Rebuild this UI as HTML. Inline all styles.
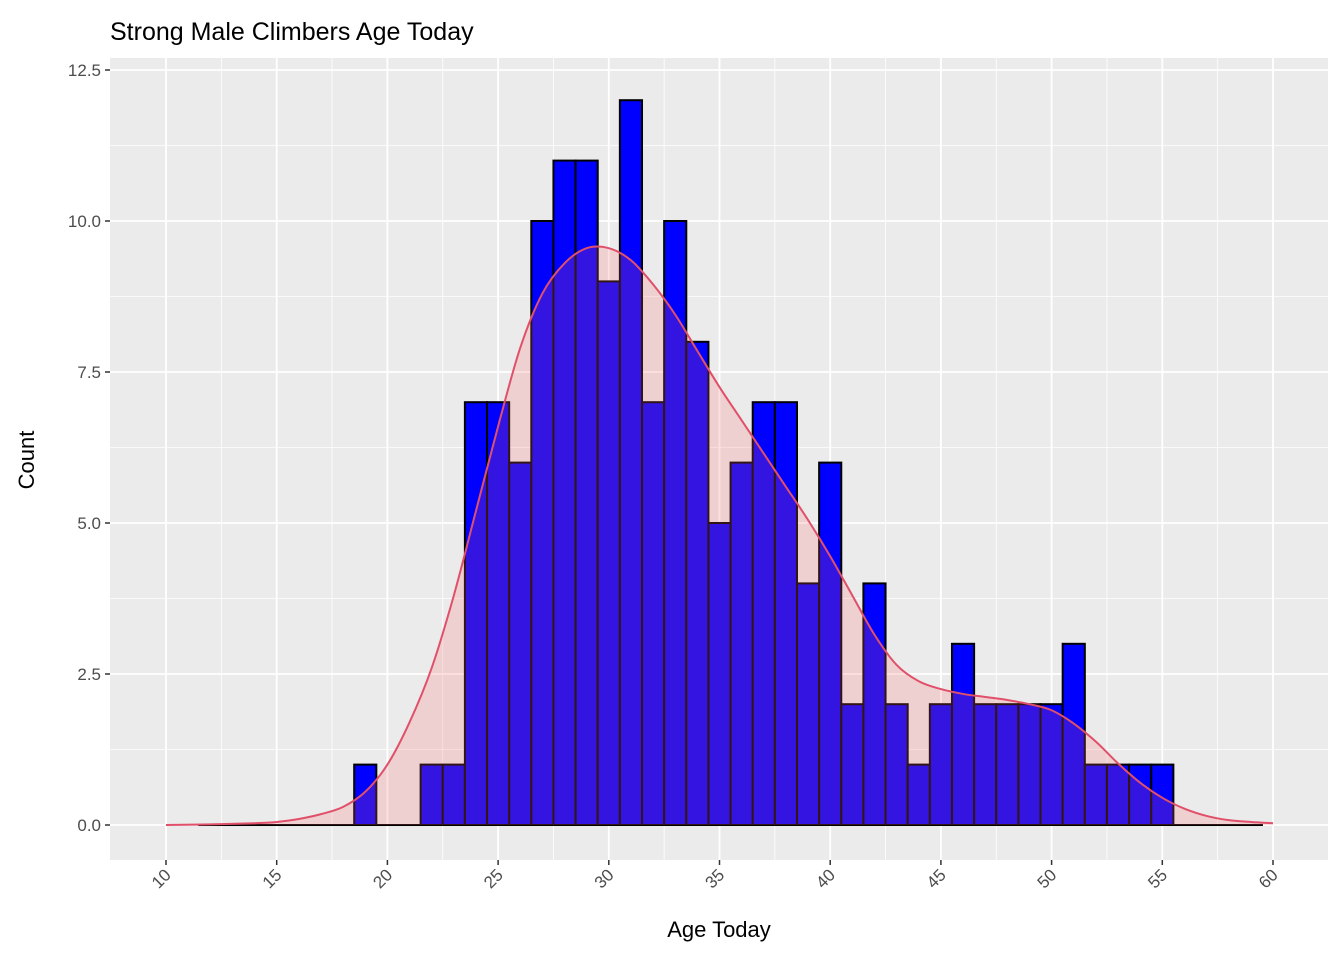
<!DOCTYPE html>
<html><head><meta charset="utf-8"><style>
html,body{margin:0;padding:0;background:#fff;}
svg{display:block;font-family:"Liberation Sans",Arial,sans-serif;}
</style></head><body>
<svg id="chart" width="1344" height="960">
<rect x="0" y="0" width="1344" height="960" fill="#fff"/>
<text x="110" y="40" font-size="25" fill="#000">Strong Male Climbers Age Today</text>
<rect x="110" y="58" width="1218" height="802" fill="#EBEBEB"/>
<g id="grid"></g>
<g id="bars"></g>
<g id="dens"></g>
<g id="axes"></g>
<text x="719" y="937" font-size="22" text-anchor="middle" fill="#000">Age Today</text>
<text transform="translate(34,460) rotate(-90)" font-size="22" text-anchor="middle" fill="#000">Count</text>
</svg>
<script>
const binCenters = [12,13,14,15,16,17,18,19,20,21,22,23,24,25,26,27,28,29,30,31,32,33,34,35,36,37,38,39,40,41,42,43,44,45,46,47,48,49,50,51,52,53,54,55,56,57,58,59];
const binCounts  = [0,0,0,0,0,0,0,1,0,0,1,1,7,7,6,10,11,11,9,12,7,10,8,5,6,7,7,4,6,2,4,2,1,2,3,2,2,2,2,3,1,1,1,1,0,0,0,0];
const densAges = [10,12,14,15,16,17,18,19,20,21,22,23,24,25,26,27,28,29,30,31,32,33,34,35,36,37,38,39,40,41,42,43,44,45,46,47,48,49,50,51,52,53,54,55,56,57,58,59,60];
const densVals = [0,0.01,0.03,0.05,0.1,0.18,0.3,0.55,1.0,1.7,2.6,3.8,5.2,6.6,7.9,8.8,9.3,9.55,9.55,9.35,8.95,8.45,7.85,7.25,6.7,6.15,5.6,5.05,4.45,3.8,3.15,2.65,2.38,2.25,2.17,2.12,2.07,2.0,1.9,1.68,1.38,1.02,0.7,0.45,0.27,0.15,0.08,0.05,0.03];
const xTicks = [10,15,20,25,30,35,40,45,50,55,60];
const yTicks = [0,2.5,5,7.5,10,12.5];
const yTickLabels = ["0.0","2.5","5.0","7.5","10.0","12.5"];

const NS="http://www.w3.org/2000/svg";
const X=v=>166+(v-10)*22.14;
const Y=v=>825-v*60.4;
function mk(tag,attrs,parent){const e=document.createElementNS(NS,tag);for(const k in attrs)e.setAttribute(k,attrs[k]);parent.appendChild(e);return e;}
const grid=document.getElementById('grid'),bars=document.getElementById('bars'),dens=document.getElementById('dens'),axes=document.getElementById('axes');
for(let i=0;i<xTicks.length-1;i++){const v=(xTicks[i]+xTicks[i+1])/2;const l=mk('line',{x1:X(v),x2:X(v),y1:58,y2:860,stroke:'#fff','stroke-width':0.8},grid);

}
for(let i=0;i<yTicks.length-1;i++){const v=(yTicks[i]+yTicks[i+1])/2;const l=mk('line',{x1:110,x2:1328,y1:Y(v),y2:Y(v),stroke:'#fff','stroke-width':0.8},grid);

}
xTicks.forEach(v=>{const l=mk('line',{x1:X(v),x2:X(v),y1:58,y2:860,stroke:'#fff','stroke-width':1.8},grid);


const t=mk('line',{x1:X(v),x2:X(v),y1:860,y2:865,stroke:'#333','stroke-width':1.5},axes);


const tx=mk('text',{transform:`translate(${X(v)+6},${876}) rotate(-45)`,'font-size':17,fill:'#4D4D4D','text-anchor':'end'},axes);tx.textContent=v;

});
yTicks.forEach((v,i)=>{const l=mk('line',{x1:110,x2:1328,y1:Y(v),y2:Y(v),stroke:'#fff','stroke-width':1.8},grid);


const t=mk('line',{x1:105,x2:110,y1:Y(v),y2:Y(v),stroke:'#333','stroke-width':1.5},axes);


const tx=mk('text',{x:101,y:Y(v)+6,'font-size':17,fill:'#4D4D4D','text-anchor':'end'},axes);tx.textContent=yTickLabels[i];

});
binCenters.forEach((c,i)=>{const h=binCounts[i];const x0=X(c-0.5),x1=X(c+0.5);
const r=mk('rect',{x:x0,y:Y(h),width:x1-x0,height:Math.max(Y(0)-Y(h),0.01),fill:'#0000FF',stroke:'#000','stroke-width':2},bars);

});
const pts=densAges.map((a,i)=>[X(a),Y(densVals[i])]);
function smooth(p){let s=`M${p[0][0]},${p[0][1]}`;for(let i=0;i<p.length-1;i++){const p0=p[Math.max(i-1,0)],p1=p[i],p2=p[i+1],p3=p[Math.min(i+2,p.length-1)];
const c1=[p1[0]+(p2[0]-p0[0])/6,p1[1]+(p2[1]-p0[1])/6],c2=[p2[0]-(p3[0]-p1[0])/6,p2[1]-(p3[1]-p1[1])/6];
s+=` C${c1[0]},${c1[1]} ${c2[0]},${c2[1]} ${p2[0]},${p2[1]}`;}return s;}
const curve=smooth(pts);
const area=mk('path',{d:curve+` L${pts[pts.length-1][0]},${Y(0)} L${pts[0][0]},${Y(0)} Z`,fill:'#FF6666','fill-opacity':0.2,stroke:'none'},dens);


const line=mk('path',{d:curve,fill:'none',stroke:'#E0506A','stroke-width':2,'stroke-linejoin':'round'},dens);


</script>
</body></html>
